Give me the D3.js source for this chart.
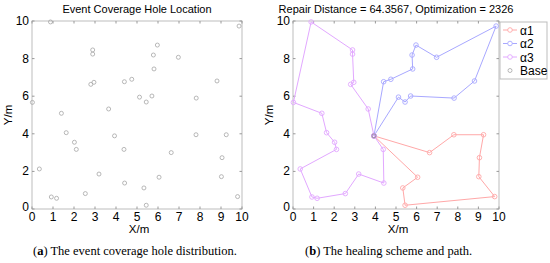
<!DOCTYPE html>
<html>
<head>
<meta charset="utf-8">
<script src="https://cdn.jsdelivr.net/npm/d3@7"></script>
<style>
  body { margin: 0; background: #fff; }
  svg text { font-family: "Liberation Sans", Arial, sans-serif; }
</style>
</head>
<body>
<div id="chart"></div>
<script>
(function () {
    var width = 550,
        height = 263;

    // base station
    var base = [3.93, 3.89];

    // healing routes (excluding the base at both ends)
    var route1 = [[6.63, 3.0], [7.81, 3.95], [9.25, 3.95], [9.05, 2.73], [9.02, 1.72],
        [9.79, 0.66], [5.44, 0.2], [5.33, 1.12], [6.05, 1.69]];
    var route2 = [[4.4, 6.77], [4.75, 6.9], [5.81, 7.45], [5.78, 8.19], [5.97, 8.72],
        [6.97, 8.07], [9.86, 9.73], [8.81, 6.81], [7.82, 5.9], [5.71, 6.01],
        [5.44, 5.69], [5.12, 5.95]];
    var route3 = [[3.65, 5.32], [2.8, 6.63], [2.95, 6.74], [2.89, 8.24], [2.89, 8.46],
        [0.88, 9.95], [0.02, 5.67], [1.4, 5.09], [1.63, 4.06], [2.02, 3.55],
        [2.11, 3.17], [0.35, 2.13], [0.92, 0.64], [1.17, 0.57], [2.54, 0.82],
        [3.19, 1.86], [4.41, 1.38], [4.38, 3.17]];

    var seriesNames = ["\u03b11", "\u03b12", "\u03b13"];
    var seriesColors = ["#ffa8a8", "#a8a8ff", "#e2a8ff"];
    var xTicks = [0, 1, 2, 3, 4, 5, 6, 7, 8, 9, 10];
    var yTicks = [0, 2, 4, 6, 8, 10];

    var routes = [route1, route2, route3];
    // every hole location plus the base
    var holes = route1.concat(route2, route3, [base]);

    var svg = d3.select("#chart")
        .append("svg")
        .attr("width", width)
        .attr("height", height);

    function drawAxes(g, x, y, title, titleX) {
        var x0 = x.range()[0], x1 = x.range()[1],
            y0 = y.range()[0], y1 = y.range()[1];

        g.append("rect")
            .attr("x", x0).attr("y", y1)
            .attr("width", x1 - x0).attr("height", y0 - y1)
            .attr("fill", "none")
            .attr("stroke", "#bdbdbd")
            .attr("stroke-width", 1);

        // inward ticks on all four sides
        xTicks.forEach(function (t) {
            g.append("line").attr("x1", x(t)).attr("x2", x(t)).attr("y1", y0).attr("y2", y0 - 2.5)
                .attr("stroke", "#999");
            g.append("line").attr("x1", x(t)).attr("x2", x(t)).attr("y1", y1).attr("y2", y1 + 2.5)
                .attr("stroke", "#999");
        });
        yTicks.forEach(function (t) {
            g.append("line").attr("y1", y(t)).attr("y2", y(t)).attr("x1", x0).attr("x2", x0 + 2.5)
                .attr("stroke", "#999");
            g.append("line").attr("y1", y(t)).attr("y2", y(t)).attr("x1", x1).attr("x2", x1 - 2.5)
                .attr("stroke", "#999");
        });

        g.selectAll(".xt").data(xTicks).enter().append("text")
            .attr("x", function (d) { return x(d); })
            .attr("y", y0 + 12)
            .attr("text-anchor", "middle")
            .attr("font-size", 12)
            .text(function (d) { return d; });

        g.selectAll(".yt").data(yTicks).enter().append("text")
            .attr("x", x0 - 3)
            .attr("y", function (d) { return y(d) + (d === 0 ? 2 : 4); })
            .attr("text-anchor", "end")
            .attr("font-size", 12)
            .text(function (d) { return d; });

        g.append("text")
            .attr("x", (x0 + x1) / 2 + 2)
            .attr("y", y0 + 24)
            .attr("text-anchor", "middle")
            .attr("font-size", 11.5)
            .text("X/m");

        g.append("text")
            .attr("transform", "translate(" + (x0 - 20) + "," + ((y0 + y1) / 2) + ") rotate(-90)")
            .attr("text-anchor", "middle")
            .attr("font-size", 11.5)
            .text("Y/m");

        g.append("text")
            .attr("x", titleX)
            .attr("y", 13)
            .attr("text-anchor", "middle")
            .attr("font-size", 11)
            .text(title);
    }

    // ---- left panel: hole locations
    var xa = d3.scaleLinear().domain([0, 10]).range([32, 242]);
    var ya = d3.scaleLinear().domain([0, 10]).range([209, 21]);
    var ga = svg.append("g");
    drawAxes(ga, xa, ya, "Event Coverage Hole Location", 137);

    ga.selectAll(".hole").data(holes).enter().append("circle")
        .attr("class", "hole")
        .attr("cx", function (d) { return xa(d[0]); })
        .attr("cy", function (d) { return ya(d[1]); })
        .attr("r", 2)
        .attr("fill", "none")
        .attr("stroke", "#a6a6a6")
        .attr("stroke-width", 0.8);

    // ---- right panel: healing paths
    var xb = d3.scaleLinear().domain([0, 10]).range([293, 499]);
    var yb = d3.scaleLinear().domain([0, 10]).range([209, 21]);
    var gb = svg.append("g");
    drawAxes(gb, xb, yb, "Repair Distance = 64.3567, Optimization = 2326", 396);

    var line = d3.line()
        .x(function (d) { return xb(d[0]); })
        .y(function (d) { return yb(d[1]); });

    routes.forEach(function (r, i) {
        var path = [base].concat(r, [base]);
        gb.append("path")
            .attr("d", line(path))
            .attr("fill", "none")
            .attr("stroke", seriesColors[i])
            .attr("stroke-width", 1);
        gb.selectAll(".m" + i).data(path).enter().append("circle")
            .attr("cx", function (d) { return xb(d[0]); })
            .attr("cy", function (d) { return yb(d[1]); })
            .attr("r", 2.3)
            .attr("fill", "none")
            .attr("stroke", seriesColors[i])
            .attr("stroke-width", 0.9);
    });

    gb.append("circle")
        .attr("cx", xb(base[0])).attr("cy", yb(base[1]))
        .attr("r", 2)
        .attr("fill", "none")
        .attr("stroke", "#888")
        .attr("stroke-width", 0.8);

    // legend
    var lg = svg.append("g").attr("transform", "translate(500,22)");
    lg.append("rect")
        .attr("width", 47).attr("height", 57)
        .attr("fill", "#fff")
        .attr("stroke", "#bdbdbd");
    var items = seriesNames.concat(["Base"]);
    items.forEach(function (name, i) {
        var yy = 8 + i * 13.5;
        if (i < 3) {
            lg.append("line").attr("x1", 3).attr("x2", 17).attr("y1", yy).attr("y2", yy)
                .attr("stroke", seriesColors[i]);
            lg.append("circle").attr("cx", 10).attr("cy", yy).attr("r", 2.3)
                .attr("fill", "#fff").attr("stroke", seriesColors[i]).attr("stroke-width", 0.9);
        } else {
            lg.append("circle").attr("cx", 10).attr("cy", yy).attr("r", 2)
                .attr("fill", "none").attr("stroke", "#a6a6a6").attr("stroke-width", 0.8);
        }
        lg.append("text")
            .attr("x", 20).attr("y", yy + 4.5)
            .attr("font-size", 12)
            .text(name);
    });

    // captions
    var caps = [["a", " The event coverage hole distribution.", 33],
        ["b", " The healing scheme and path.", 305]];
    caps.forEach(function (c) {
        var t = svg.append("text")
            .attr("x", c[2]).attr("y", 255)
            .attr("font-size", 12.5)
            .style("font-family", "'Liberation Serif', 'Times New Roman', serif");
        t.append("tspan").text("(");
        t.append("tspan").attr("font-weight", "bold").text(c[0]);
        t.append("tspan").text(")" + c[1]);
    });
})();
</script>
</body>
</html>
